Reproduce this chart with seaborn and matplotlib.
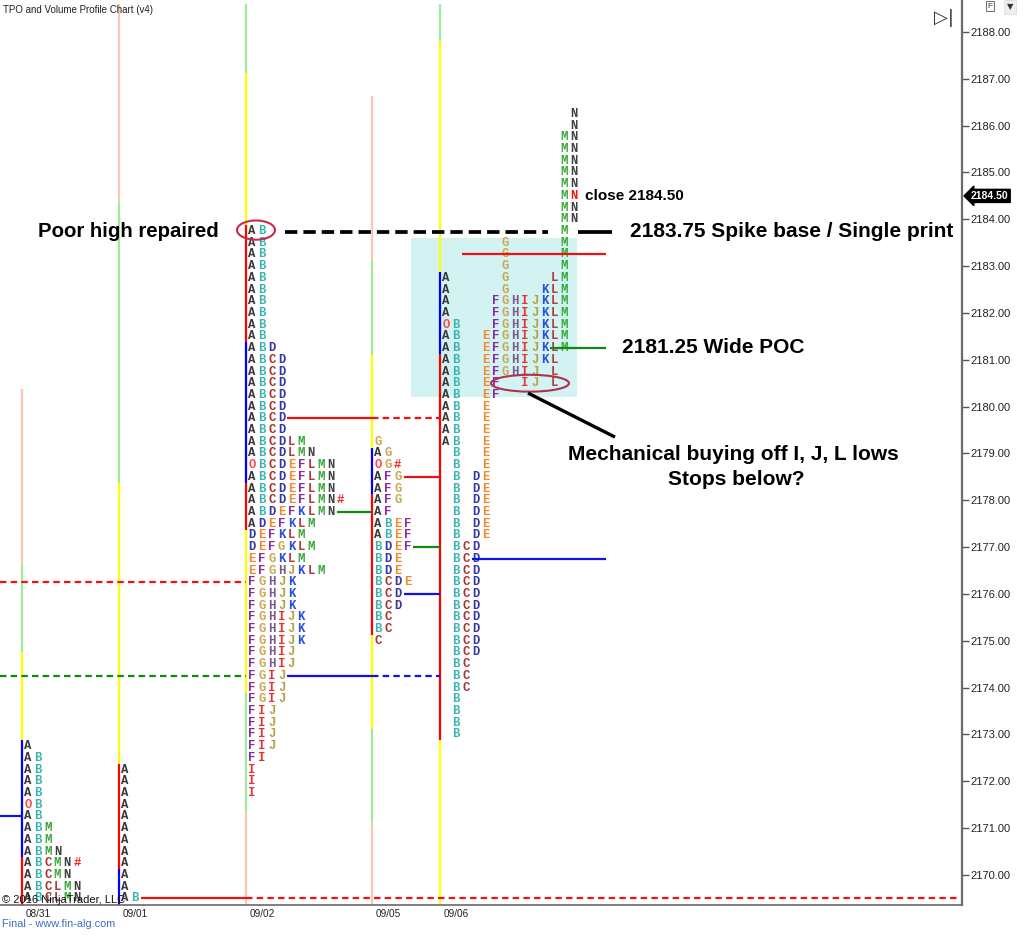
import matplotlib
matplotlib.use("Agg")
import matplotlib.pyplot as plt
import matplotlib.transforms as mtransforms
from matplotlib.patches import Ellipse, Rectangle
import seaborn as sns

# ---------------- data ----------------
sessions = ["08/31", "09/01", "09/02", "09/05", "09/06"]
session_x = [22, 119, 246, 372, 440]          # session start on the time axis
tick = 0.25
profile_top = [2172.75, 2172.25, 2183.75, 2179.25, 2186.25]
packed = [True, True, True, True, False]      # current session is drawn unpacked

tpo_0831 = ["A", "AB", "AB", "AB", "AB", "OB", "AB", "ABM", "ABM", "ABMN",
            "ABCMN#", "ABCMN", "ABCLMN", "ABCLMN"]
tpo_0901 = ["A"] * 11 + ["AB"]
tpo_0902 = (["AB"] * 10 + ["ABD"] + ["ABCD"] * 7 +
            ["ABCDLM", "ABCDLMN", "OBCDEFLMN", "ABCDEFLMN", "ABCDEFLMN",
             "ABCDEFLMN#", "ABDEFKLMN", "ADEFKLM", "DEFKLM", "DEFGKLM",
             "EFGKLM", "EFGHJKLM"] +
            ["FGHJK"] * 3 + ["FGHIJK"] * 3 + ["FGHIJ"] * 2 + ["FGIJ"] * 3 +
            ["FIJ"] * 4 + ["FI"] + ["I"] * 3)
tpo_0905 = ["G", "AG", "OG#", "AFG", "AFG", "AFG", "AF", "ABEF", "ABEF",
            "BDEF", "BDE", "BDE", "BCDE", "BCD", "BCD", "BC", "BC", "C"]
tpo_0906 = (["N", "N"] + ["MN"] * 8 + ["M"] + ["GM"] * 3 +
            ["AGLM", "AGKLM", "AFGHIJKLM", "AFGHIJKLM", "OBFGHIJKLM",
             "ABEFGHIJKLM", "ABEFGHIJKLM", "ABEFGHIJKL", "ABEFGHIJL",
             "ABEFIJL", "ABEF", "ABE", "ABE", "ABE", "ABE", "BE", "BE"] +
            ["BDE"] * 6 + ["BCD"] * 10 + ["BC"] * 3 + ["B"] * 4)
profiles = [tpo_0831, tpo_0901, tpo_0902, tpo_0905, tpo_0906]
close_session, close_price = 4, 2184.50

# range bars: (top, bottom, band)
bar_0831 = [(2180.375, 2176.625, "x2"), (2176.625, 2174.75, "x1"),
            (2174.75, 2172.875, "x05"), (2172.875, 2170.375, "ib_b"),
            (2170.375, 2169.0, "ib_r")]
bar_0901 = [(2188.6, 2184.375, "x2"), (2184.375, 2178.375, "x1"),
            (2178.375, 2172.375, "x05"), (2172.375, 2170.125, "ib_r"),
            (2170.125, 2169.0, "ib_b")]
bar_0902 = [(2188.6, 2187.125, "x1"), (2187.125, 2183.875, "x05"),
            (2183.875, 2181.375, "ib_r"), (2181.375, 2178.375, "ib_b"),
            (2178.375, 2177.375, "ib_r"), (2177.375, 2173.875, "x05"),
            (2173.875, 2171.375, "x1"), (2171.375, 2169.0, "x2")]
bar_0905 = [(2186.625, 2183.125, "x2"), (2183.125, 2181.125, "x1"),
            (2181.125, 2179.125, "x05"), (2179.125, 2178.125, "ib_b"),
            (2178.125, 2175.125, "ib_r"), (2175.125, 2173.125, "x05"),
            (2173.125, 2171.125, "x1"), (2171.125, 2169.0, "x2")]
bar_0906 = [(2188.6, 2187.8, "x1"), (2187.8, 2182.875, "x05"),
            (2182.875, 2181.125, "ib_b"), (2181.125, 2172.875, "ib_r"),
            (2172.875, 2169.0, "x05")]
bars = [bar_0831, bar_0901, bar_0902, bar_0905, bar_0906]

# value-area / POC levels of the visible sessions
level_session = [1, 2, 2, 2, 3, 3, 3, 4, 4, 4]
level_price = [2169.50, 2179.75, 2177.75, 2174.25, 2178.50, 2177.00, 2176.00,
               2183.25, 2181.25, 2176.75]
level_type = ["VAH", "VAH", "POC", "VAL", "VAH", "POC", "VAL", "VAH", "POC", "VAL"]
level_until = [None, 4, 3, 4, 4, 4, 4, 4, 4, 4]
# levels carried from earlier sessions
carry_price = [2187.75, 2176.25, 2174.25, 2171.25]
carry_type = ["POC", "VAH", "POC", "VAL"]
carry_solid_until = [None, None, None, 0]
carry_until = [None, 2, 2, 0]

price_ticks = list(range(2170, 2189))

# ---------------- style ----------------
sns.set_theme(style="white")
plt.rcParams["font.family"] = ["Liberation Sans", "DejaVu Sans"]

letter_colors = {"A": "#383838", "B": "#3cb4b4", "C": "#a83232", "D": "#3236a8",
                 "E": "#f58a2a", "F": "#8a2aa0", "G": "#c8a850", "H": "#7a5a8c",
                 "I": "#e83030", "J": "#b4a040", "K": "#2850e0", "L": "#b03c3c",
                 "M": "#34a834", "N": "#404040", "O": "#ff4a4a", "#": "#ff2020"}
band_colors = {"x2": "#fbc6b2", "x1": "#9cec9c", "x05": "#ffff00",
               "ib_b": "#0000ff", "ib_r": "#ff0000"}
level_colors = {"VAH": "#ee1111", "POC": "#118811", "VAL": "#1111ee"}
col_w = 9.85
right_edge = 960
current_extend = 166
dash = (0, (2.9, 1.9))

fig = plt.figure(figsize=(10.24, 9.35), dpi=100)
ax = fig.add_axes([0, 30 / 935, 962 / 1024, 905 / 935])
ax.set_xlim(0, 962)
ax.set_ylim(2188 - (905 - 32) / 46.83, 2188 + 32 / 46.83)
ax.set_facecolor("white")

# highlight box
ax.add_patch(Rectangle((411, 2180.21), 166, 3.39, facecolor="#d3f2f2",
                       edgecolor="none", zorder=0.5))

# range bars
for s, bar in enumerate(bars):
    for top, bot, band in bar:
        ax.vlines(session_x[s], bot, top, color=band_colors[band], lw=1.6, zorder=1)

# letters
def col_of(ch, j, s):
    if packed[s] or ch == "#":
        return j
    return 0 if ch == "O" else ord(ch) - ord("A")

for s, rows in enumerate(profiles):
    for i, row in enumerate(rows):
        price = profile_top[s] - i * tick
        for j, ch in enumerate(row):
            c = letter_colors[ch]
            if s == close_session and abs(price - close_price) < 1e-6 and j == len(row) - 1:
                c = "#ff1010"
            ax.text(session_x[s] + 6 + col_of(ch, j, s) * col_w, price, ch,
                    color=c, fontsize=8.8, family="Liberation Mono",
                    fontweight="bold", ha="center", va="center",
                    zorder=3, clip_on=True)

def row_len(s, price):
    i = int(round((profile_top[s] - price) / tick))
    return len(profiles[s][i].replace("#", ""))

# levels of visible sessions
for s, p, t, u in zip(level_session, level_price, level_type, level_until):
    x0 = session_x[s] + 2 + row_len(s, p) * col_w
    if s + 1 < len(sessions):
        x1 = session_x[s + 1]
    else:
        x1 = session_x[s] + current_extend
    ax.hlines(p, x0, x1, color=level_colors[t], lw=1.6, zorder=4)
    if s + 1 < len(sessions) and u != s + 1:
        x2 = session_x[u] if u is not None else right_edge
        ax.hlines(p, x1, x2, color=level_colors[t], lw=1.6, linestyles=dash, zorder=4)

# carried levels
for p, t, su, u in zip(carry_price, carry_type, carry_solid_until, carry_until):
    x1 = 0
    if su is not None:
        x1 = session_x[su]
        ax.hlines(p, 0, x1, color=level_colors[t], lw=1.6, zorder=4)
    if u != su:
        x2 = session_x[u] if u is not None else right_edge
        ax.hlines(p, x1, x2, color=level_colors[t], lw=1.6, linestyles=dash, zorder=4)

# ---------------- annotations ----------------
bold = dict(fontweight="bold", color="black", zorder=6)
ax.text(38, 2183.75, "Poor high repaired", fontsize=14.7, va="center", ha="left", **bold)
ax.add_patch(Ellipse((256, 2183.77), 38, 0.41, fill=False, edgecolor="#c8284c", lw=1.5, zorder=5))
ax.hlines(2183.73, 285, 548, color="black", lw=2.7, linestyles=(0, (3.3, 1.6)), zorder=5)
ax.hlines(2183.73, 578, 612, color="black", lw=2.7, zorder=5)
ax.text(630, 2183.73, "2183.75 Spike base / Single print", fontsize=15,
        va="center", ha="left", **bold)
ax.text(585, 2184.50, "close 2184.50", fontsize=11, va="center", ha="left", **bold)
ax.text(622, 2181.27, "2181.25 Wide POC", fontsize=15, va="center", ha="left", **bold)
ax.add_patch(Ellipse((530, 2180.50), 78, 0.36, fill=False, edgecolor="#b03050", lw=1.5, zorder=5))
ax.plot([528, 615], [2180.29, 2179.35], color="black", lw=2.4, zorder=5,
        solid_capstyle="butt")
ax.text(733, 2178.97, "Mechanical buying off I, J, L lows", fontsize=15,
        va="center", ha="center", **bold)
ax.text(736, 2178.45, "Stops below?", fontsize=15, va="center", ha="center", **bold)

# ---------------- axes ----------------
ax.yaxis.tick_right()
ax.set_yticks(price_ticks)
ax.set_yticklabels([f"{v:.2f}" for v in price_ticks])
ax.tick_params(axis="y", right=True, length=5, width=1, color="#555555",
               labelsize=8, labelcolor="#222222", pad=1)
ax.set_xticks(session_x)
ax.set_xticklabels(sessions)
ax.tick_params(axis="x", bottom=True, length=0, labelsize=7.2, labelcolor="#222222", pad=3)
offset = mtransforms.ScaledTranslation(4 / 100, 0, fig.dpi_scale_trans)
for lab in ax.get_xticklabels():
    lab.set_ha("left")
    lab.set_transform(lab.get_transform() + offset)
for side in ["top", "left"]:
    ax.spines[side].set_visible(False)
ax.spines["right"].set_color("#6a6a6a")
ax.spines["right"].set_linewidth(1.6)
ax.spines["bottom"].set_color("#6a6a6a")
ax.spines["bottom"].set_linewidth(1.2)
ax.grid(False)

# current price marker on the price axis
tr = mtransforms.blended_transform_factory(ax.transAxes, ax.transData)
ax.text(1.0 + 9 / 962, close_price, "2184.50", transform=tr, ha="left", va="center",
        color="white", fontsize=7.5, fontweight="bold", clip_on=False, zorder=7,
        bbox=dict(boxstyle="larrow,pad=0.15", fc="black", ec="black"))

# chart chrome texts
fig.text(3 / 1024, 1 - 10 / 935, "TPO and Volume Profile Chart (v4)", fontsize=7,
         color="#222222", ha="left", va="center")
fig.text(2 / 1024, 1 - 900 / 935, "© 2016 NinjaTrader, LLC", fontsize=8,
         color="#111111", ha="left", va="center", zorder=10)
fig.text(2 / 1024, 1 - 924 / 935, "Final - www.fin-alg.com", fontsize=7.8,
         color="#3a6fc4", ha="left", va="center")
fig.text(944 / 1024, 1 - 18 / 935, "▷|", fontsize=13, color="#333333",
         ha="center", va="center", family="DejaVu Sans")
fig.text(990 / 1024, 1 - 6 / 935, "F", fontsize=6, color="#333333", ha="center",
         va="center", bbox=dict(boxstyle="square,pad=0.2", fc="white", ec="#555555", lw=0.6))
fig.text(1010 / 1024, 1 - 7 / 935, "▼", fontsize=6, color="#333333", ha="center",
         va="center", family="DejaVu Sans",
         bbox=dict(boxstyle="square,pad=0.35", fc="#eeeeee", ec="#dddddd", lw=0.6))

fig.savefig("out.png", dpi=100, facecolor="white")
